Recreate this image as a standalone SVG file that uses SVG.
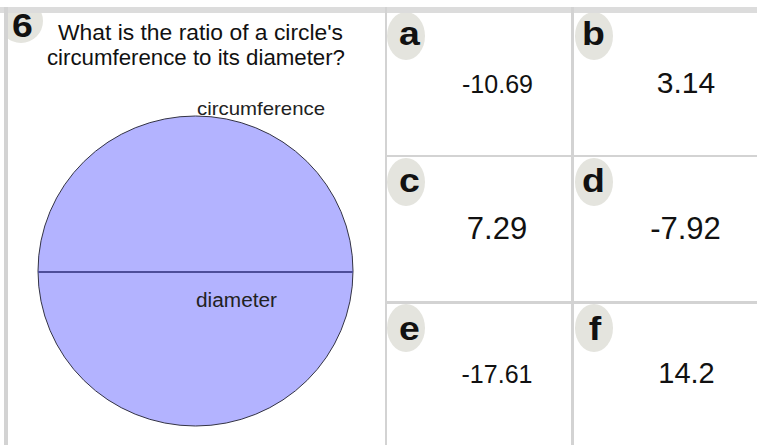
<svg xmlns="http://www.w3.org/2000/svg" width="757" height="445" viewBox="0 0 757 445">
<style>
.grid{fill:#d3d3d3}
.badge{fill:#e4e4de}
.bl{font-family:"Liberation Sans",Arial,sans-serif;font-weight:bold;font-size:34px;fill:#111;text-anchor:middle}
.q{font-family:"Liberation Sans",Arial,sans-serif;font-size:22px;fill:#111}
.num{font-family:"Liberation Sans",Arial,sans-serif;fill:#111;text-anchor:middle}
.lab{font-family:"Liberation Sans",Arial,sans-serif;fill:#222}
</style>
<defs>
<clipPath id="cq"><rect x="8" y="13" width="377" height="432"/></clipPath>
<clipPath id="ca"><rect x="387" y="13" width="184" height="142"/></clipPath>
<clipPath id="cb"><rect x="574" y="13" width="183" height="142"/></clipPath>
<clipPath id="cc"><rect x="387" y="157" width="184" height="144"/></clipPath>
<clipPath id="cd"><rect x="574" y="157" width="183" height="144"/></clipPath>
<clipPath id="ce"><rect x="387" y="304" width="184" height="141"/></clipPath>
<clipPath id="cf"><rect x="574" y="304" width="183" height="141"/></clipPath>
</defs>
<rect width="757" height="445" fill="#ffffff"/>
<g id="grid">
<rect x="0" y="7" width="757" height="6" fill="#dcdcdc"/>
<rect class="grid" x="4" y="7" width="4" height="438"/>
<rect class="grid" x="385" y="7" width="2" height="438"/>
<rect class="grid" x="571" y="7" width="3" height="438"/>
<rect class="grid" x="387" y="155" width="370" height="2"/>
<rect class="grid" x="387" y="301" width="370" height="3"/>
</g>
<g id="question">
<circle class="badge" cx="21" cy="21" r="22" clip-path="url(#cq)"/>
<text class="bl" transform="translate(22.5,37) scale(1.1,1)" font-size="32">6</text>
<text class="q" x="58" y="40" textLength="285" lengthAdjust="spacingAndGlyphs">What is the ratio of a circle's</text>
<text class="q" x="47" y="65" textLength="298" lengthAdjust="spacingAndGlyphs">circumference to its diameter?</text>
<ellipse cx="195.5" cy="271" rx="157.5" ry="155" fill="#b3b3ff" stroke="#333344" stroke-width="1"/>
<line x1="38" y1="272" x2="353" y2="272" stroke="#4d4d99" stroke-width="2"/>
<text class="lab" x="197" y="115" font-size="19" textLength="128" lengthAdjust="spacingAndGlyphs">circumference</text>
<text class="lab" x="196" y="307" font-size="20" textLength="81" lengthAdjust="spacingAndGlyphs" fill="#1f1f4f">diameter</text>
</g>
<g id="opt-a">
<ellipse class="badge" cx="406" cy="36" rx="19" ry="24" clip-path="url(#ca)"/>
<text class="bl" transform="translate(409.5,45) scale(1.1,1)">a</text>
<text class="num" x="497.5" y="93" font-size="25">-10.69</text>
</g>
<g id="opt-b">
<ellipse class="badge" cx="594" cy="36" rx="19" ry="24" clip-path="url(#cb)"/>
<text class="bl" transform="translate(593.5,45) scale(1.1,1)">b</text>
<text class="num" x="686" y="93" font-size="30">3.14</text>
</g>
<g id="opt-c">
<ellipse class="badge" cx="406" cy="182" rx="19" ry="24" clip-path="url(#cc)"/>
<text class="bl" transform="translate(409.5,192) scale(1.1,1)">c</text>
<text class="num" x="497" y="239" font-size="31">7.29</text>
</g>
<g id="opt-d">
<ellipse class="badge" cx="594" cy="182" rx="19" ry="24" clip-path="url(#cd)"/>
<text class="bl" transform="translate(593.5,192) scale(1.1,1)">d</text>
<text class="num" x="685.5" y="239" font-size="31">-7.92</text>
</g>
<g id="opt-e">
<ellipse class="badge" cx="406" cy="328" rx="19" ry="24" clip-path="url(#ce)"/>
<text class="bl" transform="translate(409.5,340) scale(1.1,1)">e</text>
<text class="num" x="497" y="383" font-size="25">-17.61</text>
</g>
<g id="opt-f">
<ellipse class="badge" cx="594" cy="328" rx="19" ry="24" clip-path="url(#cf)"/>
<text class="bl" transform="translate(595,340) scale(1.1,1)">f</text>
<text class="num" x="686.5" y="383" font-size="29">14.2</text>
</g>
</svg>
